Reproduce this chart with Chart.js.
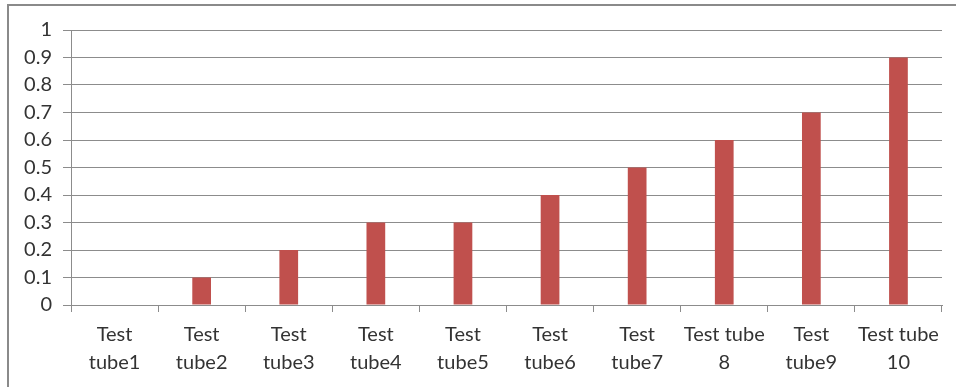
<!DOCTYPE html>
<html>
<head>
<meta charset="utf-8">
<script src="https://cdn.jsdelivr.net/npm/chart.js@4/dist/chart.umd.min.js"></script>
<style>
  html, body { margin: 0; padding: 0; background: #fff; }
  body { width: 956px; height: 387px; overflow: hidden; position: relative; }
  #frame {
    position: absolute; left: 7px; top: 4px; width: 1000px; height: 381px;
    border-top: 2px solid #8a8a8a; border-left: 2px solid #8a8a8a;
    border-bottom: 1px solid #dedede; box-sizing: content-box;
  }
  #wrap { position: absolute; left: 0; top: 0; width: 956px; height: 387px; }
</style>
</head>
<body>
<div id="frame"></div>
<div id="wrap"><canvas id="c" width="956" height="387"></canvas></div>
<script>
// Categories (multi-line labels) and measured values
const categories = [
  ["Test", "tube1"], ["Test", "tube2"], ["Test", "tube3"], ["Test", "tube4"],
  ["Test", "tube5"], ["Test", "tube6"], ["Test", "tube7"], ["Test tube", "8"],
  ["Test", "tube9"], ["Test tube", "10"]
];
const values = [0, 0.1, 0.2, 0.3, 0.3, 0.4, 0.5, 0.6, 0.7, 0.9];
const yTicks = [0, 0.1, 0.2, 0.3, 0.4, 0.5, 0.6, 0.7, 0.8, 0.9, 1];

const gridColor = '#8c8c8c';
const textColor = '#333333';
const fontFamily = 'Lato, "Open Sans", sans-serif';

new Chart(document.getElementById('c'), {
  type: 'bar',
  data: {
    labels: categories,
    datasets: [{
      data: values,
      backgroundColor: '#C0504D',
      borderWidth: 0,
      barPercentage: 0.86,
      categoryPercentage: 0.25
    }]
  },
  options: {
    responsive: false,
    animation: false,
    layout: { padding: { left: 0, top: 30, right: 14, bottom: 0 } },
    plugins: { legend: { display: false }, tooltip: { enabled: false } },
    scales: {
      x: {
        offset: true,
        grid: {
          display: true, drawOnChartArea: false, drawTicks: true,
          tickLength: 7, color: gridColor, offset: true
        },
        border: { display: true, color: gridColor },
        ticks: {
          color: textColor, maxRotation: 0, autoSkip: false, padding: 9,
          font: { family: fontFamily, size: 20, lineHeight: 1.375 }
        },
        afterFit: s => { s.height = 82; }
      },
      y: {
        min: 0, max: 1,
        afterBuildTicks: s => { s.ticks = yTicks.map(v => ({ value: v })); },
        grid: { color: gridColor, tickLength: 8, drawTicks: true },
        border: { display: true, color: gridColor },
        ticks: {
          color: textColor, padding: 11,
          font: { family: fontFamily, size: 20 },
          callback: v => String(v)
        },
        afterFit: s => { s.width = 71; }
      }
    }
  }
});
</script>
</body>
</html>
